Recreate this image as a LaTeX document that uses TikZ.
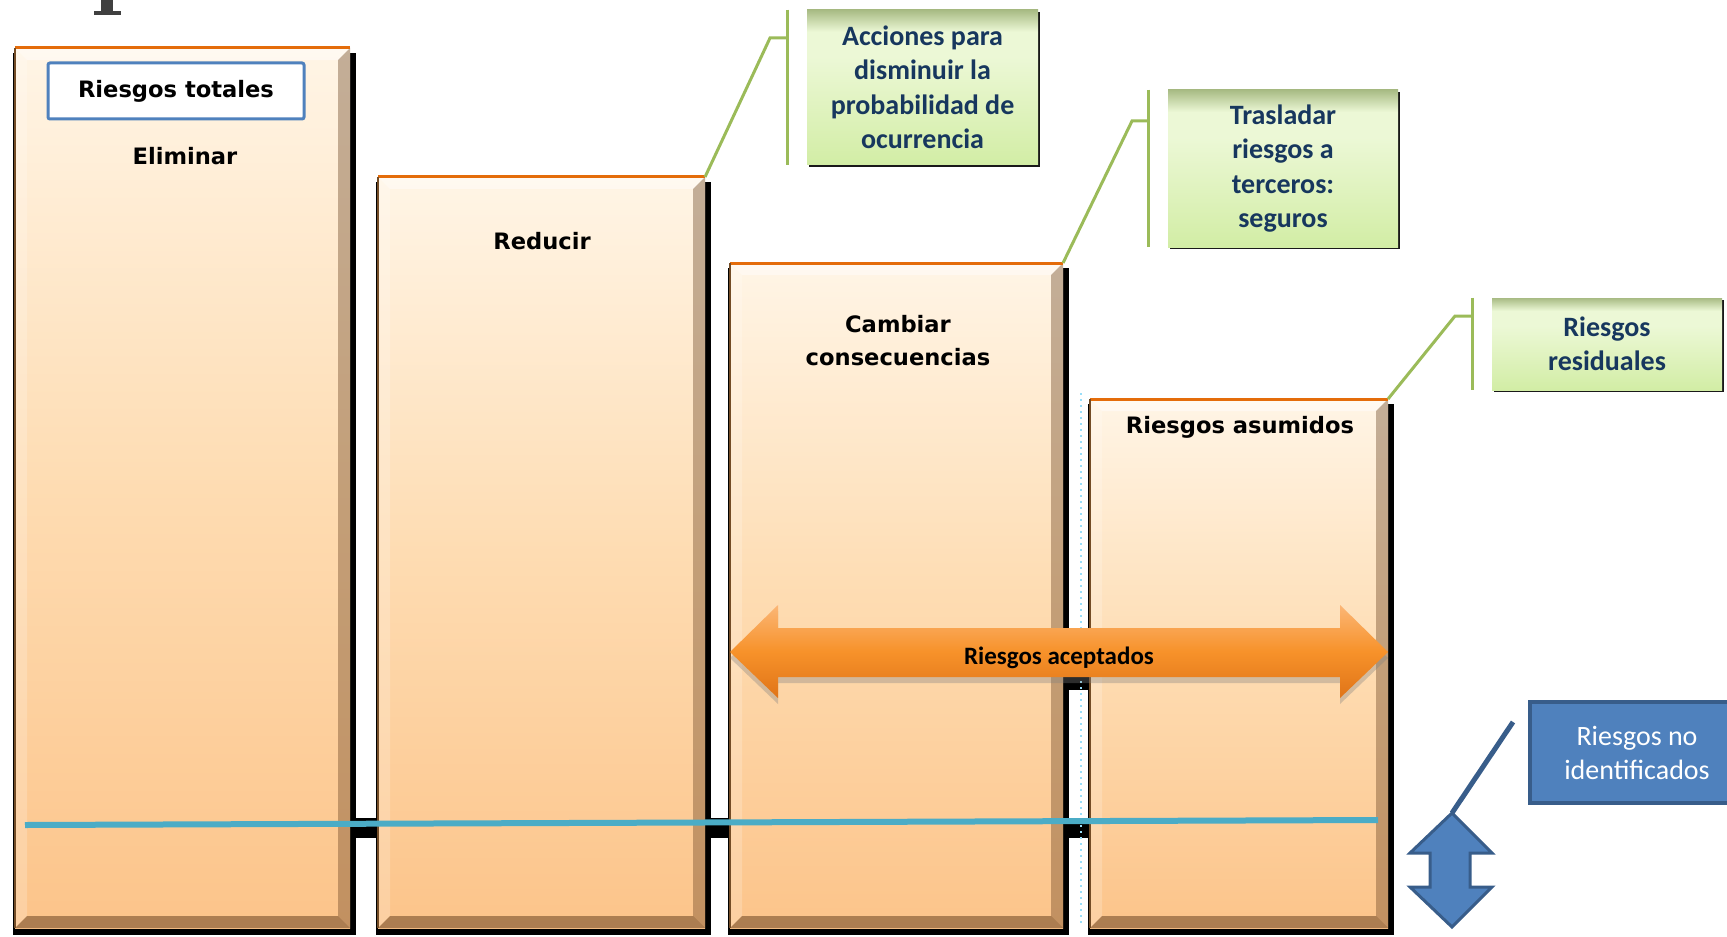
\documentclass[tikz,border=0pt]{standalone}
\usepackage{fontspec}
\setmainfont{DejaVu Sans}
\newfontfamily\calibri{Carlito}
\usetikzlibrary{shadows}
\definecolor{barTop}{HTML}{FFF5E6}
\definecolor{barMid}{HTML}{FEDCB2}
\definecolor{barBot}{HTML}{FCC48A}
\definecolor{barEdge}{HTML}{E46C0A}
\definecolor{bevelBrown}{HTML}{6B4423}
\definecolor{greenLine}{HTML}{9BBB59}
\definecolor{navyText}{HTML}{17375E}
\definecolor{blueFill}{HTML}{4F81BD}
\definecolor{blueEdge}{HTML}{385D8A}
\definecolor{aquaLine}{HTML}{4BACC6}
\definecolor{arrTop}{HTML}{FBB676}
\definecolor{arrMid}{HTML}{F7922A}
\definecolor{arrBot}{HTML}{E07418}
\definecolor{gTop}{HTML}{A8BB84}
\definecolor{gMid}{HTML}{ECF8D6}
\definecolor{gBot}{HTML}{D2EDA5}
\pgfdeclareverticalshading{greenbox}{100bp}{color(0bp)=(gBot); color(25bp)=(gBot); color(60bp)=(gMid); color(68bp)=(gMid); color(75bp)=(gTop); color(100bp)=(gTop)}
\begin{document}
\begin{tikzpicture}[x=0.5pt,y=-0.5pt,
  lbl/.style={font=\bfseries\fontsize{11.3}{16.5}\selectfont, align=center, inner sep=0pt},
  callbox/.style={shade, shading=greenbox, text=navyText, align=center, inner sep=0pt,
    font=\calibri\bfseries\fontsize{14}{17.25}\selectfont,
    drop shadow={shadow xshift=1.2pt, shadow yshift=-1.2pt, fill=black, opacity=0.9}},
  leader/.style={greenLine, line width=1.5pt}]
\useasboundingbox (0,0) rectangle (1727,936);
\clip (0,0) rectangle (1727,936);
% piece of the cut-off title
\fill[black!75] (101,0) rectangle (113,13);
\fill[black!75] (94,11) rectangle (121,15);
% black bands seen in the gaps
\draw[black, line width=10pt] (350,828) -- (1095,828);
\fill[black] (1063,674) rectangle (1092,690);
% bars
\foreach \xa/\ya/\xb/\nm in {15/48/350/elim,378/177/705/reduc,730/263/1063/camb,1090/399/1388/asum} {
\fill[black] (\xa-2,\ya+5) rectangle (\xb+6,935);
\shade[top color=barTop, bottom color=barBot, middle color=barMid] (\xa,\ya) rectangle (\xb,928);
\fill[white, opacity=0.45] (\xa,\ya) -- (\xb,\ya) -- (\xb-12,\ya+12) -- (\xa+12,\ya+12) -- cycle;
\fill[white, opacity=0.2] (\xa,\ya) -- (\xa+12,\ya+12) -- (\xa+12,916) -- (\xa,928) -- cycle;
\fill[bevelBrown, opacity=0.4] (\xb,\ya) -- (\xb,928) -- (\xb-12,916) -- (\xb-12,\ya+12) -- cycle;
\fill[bevelBrown, opacity=0.55] (\xa,928) -- (\xb,928) -- (\xb-12,916) -- (\xa+12,916) -- cycle;
\draw[barEdge, line width=1.5pt] (\xa,\ya) -- (\xb,\ya);
\draw[brown!60!black, line width=0.6pt] (\xa,\ya) -- (\xa,928);
\coordinate (\nm) at (\xb,\ya);
}
\draw[dotted, line width=1pt, cyan!40] (1081,393) -- (1081,925);
% bar labels
\node[lbl, draw=blueFill, line width=1.5pt, rounded corners=1pt, fill=white, minimum width=128pt, minimum height=28pt] (total) at (176,91) {Riesgos totales};
\node[lbl] (elimtxt) at (185,156) {Eliminar};
\node[lbl] (reductxt) at (542,241) {Reducir};
\node[lbl] (cambtxt) at (898,341) {Cambiar\\consecuencias};
\node[lbl] (asumtxt) at (1240,427) {Riesgos asumidos};
% base line
\draw[aquaLine, line width=3pt] (25,825) -- (1378,820);
% accepted risks
\path[shade, top color=arrTop, bottom color=arrBot, middle color=arrMid,
  drop shadow={shadow xshift=0pt, shadow yshift=-3pt, opacity=0.35}]
  (730,652) -- (778,605) -- (778,628) -- (1340,628) -- (1340,605) -- (1388,652)
  -- (1340,698) -- (1340,677) -- (778,677) -- (778,698) -- cycle;
\node[font=\calibri\bfseries\fontsize{12.5}{15}\selectfont] (acept) at (1059,658) {Riesgos aceptados};
% callouts
\node[callbox, minimum width=115.5pt, minimum height=77.5pt] (accion) at (922.5,87.5) {Acciones para\\disminuir la\\probabilidad de\\ocurrencia};
\node[callbox, minimum width=115pt, minimum height=78.5pt] (traslado) at (1283,168.5) {Trasladar\\riesgos a\\terceros:\\seguros};
\node[callbox, minimum width=115pt, minimum height=46pt] (residual) at (1607,344) {Riesgos\\residuales};
\draw[leader] ([xshift=-9.5pt]accion.north west) -- ([xshift=-9.5pt]accion.south west);
\draw[leader] (reduc) -- (770,38) -- (788,38);
\draw[leader] ([xshift=-9.5pt]traslado.north west) -- ([xshift=-9.5pt]traslado.south west);
\draw[leader] (camb) -- (1132,121) -- (1149,121);
\draw[leader] ([xshift=-9.5pt]residual.north west) -- ([xshift=-9.5pt]residual.south west);
\draw[leader] (asum) -- (1455,316) -- (1473,316);
% unidentified risks
\node[draw=blueEdge, line width=2pt, fill=blueFill, text=white, align=center,
  font=\calibri\fontsize{14}{17}\selectfont, minimum width=107pt, minimum height=50.5pt] (noident) at (1637,752.5) {Riesgos no\\identificados};
\draw[blueEdge, fill=blueFill, line width=1.5pt] (1452,813) -- (1492,853) -- (1470,853) -- (1470,887)
  -- (1492,887) -- (1452,927) -- (1410,887) -- (1430,887) -- (1430,853) -- (1410,853) -- cycle;
\coordinate (updown) at (1452,813);
\coordinate (nitip) at (1513,722);
\draw[blueEdge, line width=2.5pt] (nitip) -- (updown);
\end{tikzpicture}
\end{document}
